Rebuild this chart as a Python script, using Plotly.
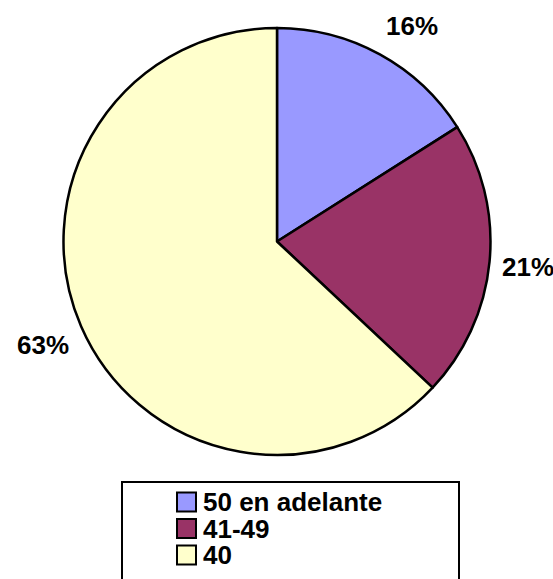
import math
import plotly.graph_objects as go

# ---- data ----
labels = ["50 en adelante", "41-49", "40"]
values = [16, 21, 63]
colors = ["#9999FF", "#993366", "#FFFFCC"]

W, H = 553, 579
FONT = "Liberation Sans, Arial, sans-serif"

# pie geometry (pixels)
CX, CY, R = 277, 241.5, 213.5

def px(x):
    return x / W

def py(y):
    return 1 - y / H

fig = go.Figure()
fig.add_trace(go.Pie(
    labels=labels,
    values=values,
    sort=False,
    direction="clockwise",
    rotation=0,
    marker=dict(colors=colors, line=dict(color="black", width=2.5)),
    textinfo="none",
    domain=dict(x=[px(CX - R), px(CX + R)], y=[py(CY + R), py(CY - R)]),
    showlegend=False,
    hoverinfo="label+percent",
))

# ---- percentage labels outside the slices (from the values) ----
annotations = []
total = sum(values)
cum = 0
GX, GY, HW, HH = 13, 20, 26, 11
for v in values:
    mid = (cum + v / 2) / total * 2 * math.pi
    cum += v
    ux, uy = math.sin(mid), -math.cos(mid)
    ex, ey = CX + R * ux, CY + R * uy
    sx = HW * (1 if ux >= 0 else -1)
    sy = HH * max(-1.0, min(1.0, uy * 3))
    lx, ly = ex + GX * ux + sx, ey + GY * uy + sy
    annotations.append(dict(xref="paper", yref="paper", x=px(lx), y=py(ly),
                            xanchor="center", yanchor="middle", showarrow=False,
                            text=f"{round(100 * v / total)}%",
                            font=dict(family=FONT, size=26, color="black", weight="bold")))

# ---- legend box (drawn from labels/colors) ----
shapes = [dict(type="rect", xref="paper", yref="paper",
               x0=px(122), x1=px(459), y0=py(620), y1=py(482),
               line=dict(color="black", width=2), fillcolor="rgba(0,0,0,0)")]
row_centers = [502, 528.5, 555]
for lab, col, yc in zip(labels, colors, row_centers):
    shapes.append(dict(type="rect", xref="paper", yref="paper",
                       x0=px(177), x1=px(196), y0=py(yc + 9.5), y1=py(yc - 9.5),
                       line=dict(color="black", width=2), fillcolor=col))
    annotations.append(dict(xref="paper", yref="paper", x=px(201), y=py(yc),
                            xanchor="left", yanchor="middle", showarrow=False,
                            text=lab,
                            font=dict(family=FONT, size=26, color="black", weight="bold")))

fig.update_layout(
    width=W, height=H,
    margin=dict(l=0, r=0, t=0, b=0),
    paper_bgcolor="white",
    plot_bgcolor="white",
    shapes=shapes,
    annotations=annotations,
)

fig.write_html("out.html", config={"displayModeBar": False},
               post_script="document.body.style.margin='0px';")
